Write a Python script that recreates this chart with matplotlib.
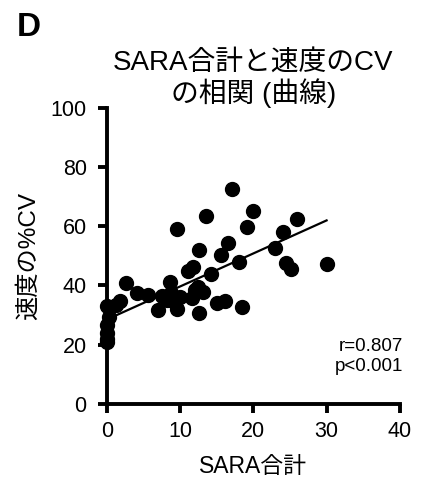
import matplotlib

matplotlib.use("Agg")
import matplotlib.pyplot as plt

plt.rcParams["font.family"] = ["Liberation Sans", "Noto Sans CJK JP", "DejaVu Sans"]

# SARA total score vs %CV of speed
sara = [17.1, 20.0, 13.6, 26.0, 9.6, 19.1, 24.1, 16.6, 12.6, 23.0,
        15.6, 18.1, 24.5, 25.1, 30.1, 11.8, 11.1, 14.2, 2.6, 8.6,
        12.4, 13.1, 4.1, 5.6, 7.5, 8.8, 11.6, 1.8, 9.1, 15.1,
        16.2, 7.0, 9.6, 12.6, 18.5, 0.0, 0.3, 0.0, 0.0, 0.0,
        0.0, 1.2, 8.2, 10.0, 12.0]
cv = [72.5, 65.3, 63.5, 62.4, 59.0, 59.9, 57.9, 54.3, 52.0, 52.5,
      50.3, 48.1, 47.5, 45.7, 47.2, 46.4, 45.0, 43.8, 40.8, 41.2,
      39.4, 37.9, 37.4, 36.7, 36.5, 37.4, 35.7, 34.6, 34.6, 34.0,
      34.6, 31.8, 32.0, 30.6, 32.7, 33.1, 29.5, 26.5, 24.0, 22.0,
      21.0, 33.5, 35.0, 36.0, 38.5]

# regression line as drawn in the figure
fit_x = [0.0, 30.0]
slope, intercept = 1.116, 28.5
r_text = "r=0.807\np<0.001"

fig = plt.figure(figsize=(4.29, 4.86), dpi=100)
ax = fig.add_axes([0.249, 0.169, 0.683, 0.609])

ax.scatter(sara, cv, s=100, color="black", zorder=3, clip_on=False)
ax.plot(fit_x, [intercept + slope * v for v in fit_x], color="black", lw=1.6, zorder=2)

ax.set_xlim(0, 40)
ax.set_ylim(0, 100)
ax.set_xticks([0, 10, 20, 30, 40])
ax.set_yticks([0, 20, 40, 60, 80, 100])
for s in ("top", "right"):
    ax.spines[s].set_visible(False)
for s in ("left", "bottom"):
    ax.spines[s].set_linewidth(2.8)
ax.tick_params(direction="out", length=6.5, width=2.8, labelsize=15.5)
ax.tick_params(axis="y", pad=8)
ax.tick_params(axis="x", pad=6)

ax.set_xlabel("SARA合計", fontsize=16.5, labelpad=9)
ax.set_ylabel("速度の%CV", fontsize=17.5, labelpad=8)
ax.set_title("SARA合計と速度のCV\nの相関 (曲線)", fontsize=20, pad=4, linespacing=1.12)

ax.text(1.01, 0.16, r_text, transform=ax.transAxes, ha="right", va="center",
        fontsize=13.5, linespacing=1.3)
fig.text(0.04, 0.975, "D", fontsize=24, fontweight="bold", va="top", ha="left")

fig.savefig("out.png", dpi=100)
